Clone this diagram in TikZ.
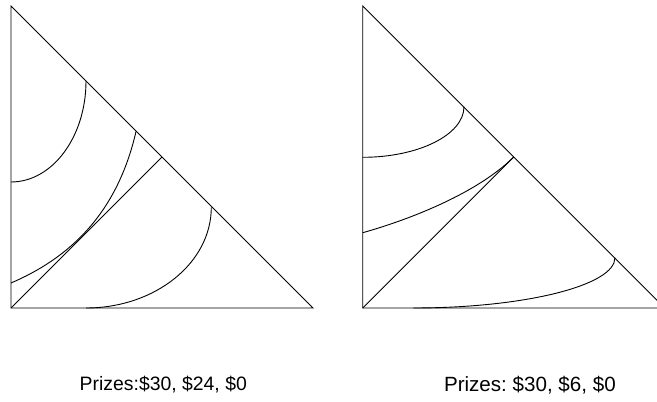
\documentclass[tikz,border=0pt]{standalone}
\usepackage{fontspec}
\setmainfont{Liberation Sans}
\frenchspacing
\begin{document}
\begin{tikzpicture}[x=1pt,y=1pt,
  edge/.style={line width=0.9pt, black},
  curve/.style={line width=0.9pt, black},
  caption/.style={anchor=base, inner sep=0pt}]
\useasboundingbox (0,0) rectangle (657,402);
\clip (0,0) rectangle (657,402);
% left triangle
\coordinate (A) at (11,396);
\coordinate (B) at (11,94);
\coordinate (C) at (313,94);
\coordinate (D) at (162,245);
\draw[edge] (A) -- (B) -- (C) -- cycle;
\draw[edge] (B) -- (D);
\draw[curve] (11,220) arc[start angle=-90, end angle=0, x radius=75, y radius=101];
\draw[curve] (11,119) .. controls (66,142.6) and (116.4,185) .. (136,270.5);
\draw[curve] (86,94) arc[start angle=-90, end angle=0, x radius=125.3, y radius=100.7];
% right triangle
\coordinate (E) at (362.7,396);
\coordinate (F) at (362.7,94);
\coordinate (G) at (664.7,94);
\coordinate (H) at (513.7,245);
\draw[edge] (E) -- (F) -- (G) -- cycle;
\draw[edge] (F) -- (H);
\draw[curve] (362.7,244.7) arc[start angle=-90, end angle=0, x radius=101.3, y radius=50.6];
\draw[curve] (362.7,169.3) .. controls (412.7,183.3) and (478.7,210) .. (H);
\draw[curve] (413.3,94) arc[start angle=-90, end angle=0, x radius=201.7, y radius=50.3];
% captions
\node[caption, font=\fontsize{19.4}{22}\selectfont] (capL) at (163.3,11) {Prizes:\$30, \$24, \$0};
\node[caption, font=\fontsize{20.6}{22}\selectfont] (capR) at (529.9,10.5) {Prizes: \$30, \$6, \$0};
\end{tikzpicture}
\end{document}
